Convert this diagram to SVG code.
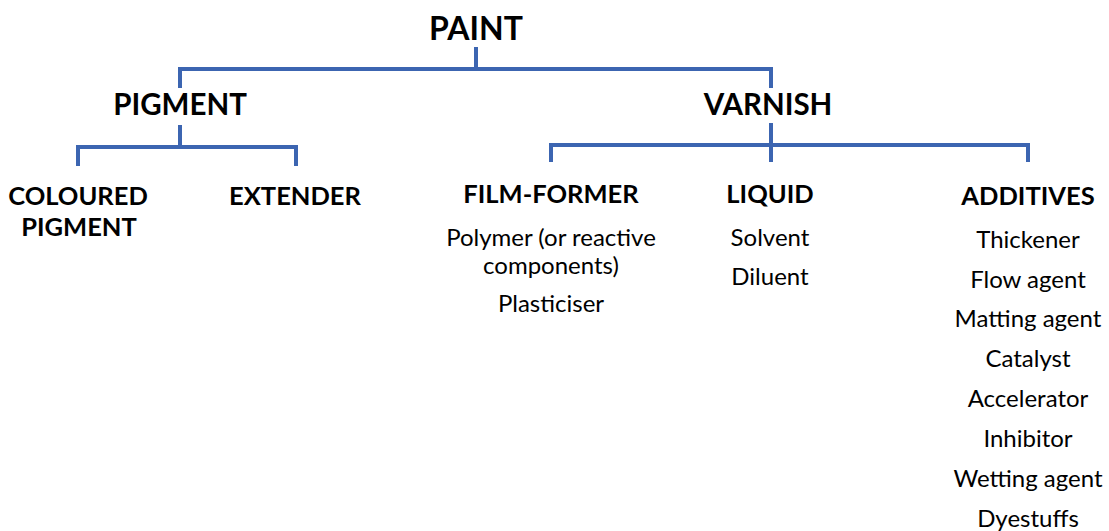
<svg xmlns="http://www.w3.org/2000/svg" width="1109" height="531" viewBox="0 0 1109 531">
<style>
.h{font-family:Lato,"Open Sans",sans-serif;font-weight:bold;font-size:25.5px;fill:#000;text-anchor:middle}
.h1{font-size:29.5px}
.t{font-family:Lato,"Open Sans",sans-serif;font-size:24px;fill:#000;text-anchor:middle}
.c{fill:none;stroke:#3C65B1;stroke-width:4;stroke-linecap:butt;stroke-linejoin:miter}
</style>
<rect width="1109" height="531" fill="#fff"/>
<g id="connectors">
<path class="c" d="M476,47 V69 M180,88 V69 H771 V88"/>
<path class="c" d="M180,125 V147 M78,166 V147 H296 V166"/>
<path class="c" d="M771,123 V162 M551,162 V145 H1028 V162"/>
</g>
<g id="paint"><text class="h" x="476" y="40" style="font-size:32px">PAINT</text></g>
<g id="pigment"><text class="h h1" x="180" y="115">PIGMENT</text></g>
<g id="varnish"><text class="h h1" x="768" y="115">VARNISH</text></g>
<g id="coloured-pigment"><text class="h" x="78" y="205">COLOURED</text><text class="h" x="79" y="236">PIGMENT</text></g>
<g id="extender"><text class="h" x="295" y="205">EXTENDER</text></g>
<g id="film-former"><text class="h" x="551" y="203">FILM-FORMER</text>
<text class="t" x="551" y="246">Polymer (or reactive</text>
<text class="t" x="551" y="274">components)</text>
<text class="t" x="551" y="312">Plasticiser</text></g>
<g id="liquid"><text class="h" x="770" y="203">LIQUID</text>
<text class="t" x="770" y="246">Solvent</text>
<text class="t" x="770" y="285">Diluent</text></g>
<g id="additives"><text class="h" x="1028" y="205">ADDITIVES</text>
<text class="t" x="1028" y="248">Thickener</text>
<text class="t" x="1028" y="288">Flow agent</text>
<text class="t" x="1028" y="327">Matting agent</text>
<text class="t" x="1028" y="367">Catalyst</text>
<text class="t" x="1028" y="407">Accelerator</text>
<text class="t" x="1028" y="447">Inhibitor</text>
<text class="t" x="1028" y="487">Wetting agent</text>
<text class="t" x="1028" y="527">Dyestuffs</text></g>
</svg>
